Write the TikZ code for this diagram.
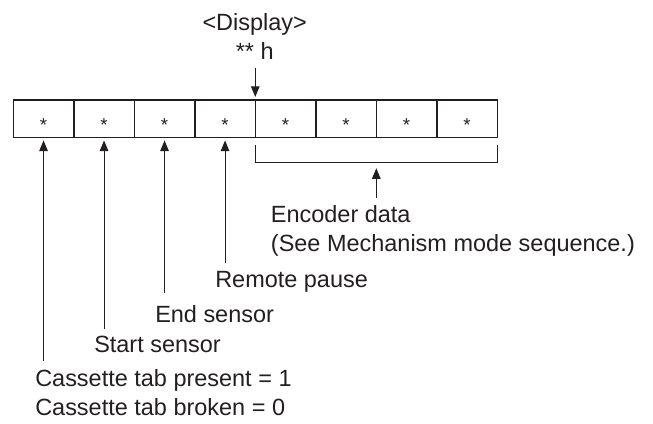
\documentclass[tikz,border=0pt]{standalone}
\usepackage{fontspec}
\setmainfont{Liberation Sans}
\usetikzlibrary{arrows.meta,calc,positioning}
\definecolor{ink}{RGB}{35,31,32}

\begin{document}
\begin{tikzpicture}[x=0.75pt, y=-0.75pt, color=ink,
    >={Triangle[length=8pt,width=6.4pt]},
    cell/.style={draw, line width=1.1pt, minimum width=45.4pt, minimum height=28.2pt,
      inner sep=0pt, outer sep=0pt, text height=18.6pt, text depth=0pt,
      font=\fontsize{14pt}{16pt}\selectfont},
    lbl/.style={anchor=north west, inner sep=0pt, align=left,
      font=\fontsize{17.6pt}{22pt}\selectfont},
    pointer/.style={->, line width=0.8pt}]
    \useasboundingbox (0,0) rectangle (653,424);
    % ---- the eight bits of the display byte
    \foreach \i in {1,...,8}
      \node[cell] (c\i) at ({13.3+60.5*(\i-0.5)},118.7) {*};
    \node[lbl, anchor=north, align=center] (disp) at (254.7,13) {<Display>\\** h};
    \draw[pointer, shorten <=6pt, shorten >=2.2pt] (c5.north west |- disp.south) -- (c5.north west);
    % ---- the labels of the low bits
    \node[lbl] (cas) at (35,369) {Cassette tab present = 1\\Cassette tab broken = 0};
    \node[lbl] (start) at (94,336) {Start sensor};
    \node[lbl] (ends) at (155,305) {End sensor};
    \node[lbl] (rem) at (215,271) {Remote pause};
    \foreach \i/\name/\gap in {1/cas/6.2pt, 2/start/5pt, 3/ends/8.8pt, 4/rem/6.2pt}
      \draw[pointer, shorten <=\gap, shorten >=2.2pt] (c\i.south |- \name.north) -- (c\i.south);
    % ---- the high bits, under one bracket
    \draw[line width=0.8pt] ([yshift=-6pt]c5.south west) -- ([yshift=-19pt]c5.south west)
      -- ([yshift=-19pt]c8.south east) -- ([yshift=-6pt]c8.south east);
    \coordinate (brk) at ($(c5.south west)!0.5!(c8.south east)+(0,-19pt)$);
    \node[lbl] (enc) at (270.7,205) {Encoder data\\(See Mechanism mode sequence.)};
    \draw[pointer, shorten <=5pt, shorten >=4pt] (brk |- enc.north) -- (brk);
\end{tikzpicture}
\end{document}
